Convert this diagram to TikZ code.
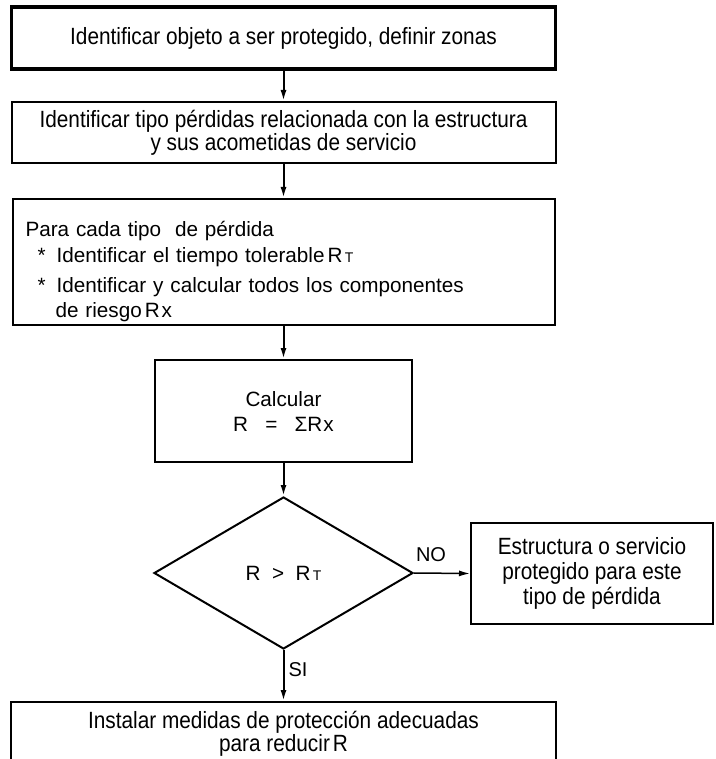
\documentclass[tikz,border=0pt]{standalone}
\usepackage{fontspec}
\setmainfont{Liberation Sans}
\newfontfamily\narrowfont[FakeStretch=0.885]{Liberation Sans}
\usetikzlibrary{shapes.geometric,arrows.meta}
\begin{document}
\begin{tikzpicture}[x=1pt,y=-1pt,
  box/.style={draw, line width=2pt, rectangle, inner sep=0pt, align=center},
  nar/.style={font=\narrowfont\fontsize{23.5}{23}\selectfont},
  reg/.style={font=\fontsize{20.7}{25}\selectfont},
  arr/.style={line width=2pt, -{Latex[length=11pt,width=6pt]}},
  lab/.style={font=\fontsize{20}{20}\selectfont, inner sep=0pt},
]
\clip (0,0) rectangle (715,759);
\fill[white] (0,0) rectangle (715,759);
\node[box, nar, line width=3.5pt, minimum width=544pt, minimum height=62pt] (b1) at (283.5,38)
  {Identificar objeto a ser protegido, definir zonas};
\node[box, nar, minimum width=544pt, minimum height=61pt] (b2) at (283.5,132.5)
  {Identificar tipo pérdidas relacionada con la estructura\\y sus acometidas de servicio};
\node[box, reg, minimum width=542pt, minimum height=126pt, text width=516pt, inner xsep=13pt, align=left] (b3) at (283.5,262)
  {\rule{0pt}{34pt}Para cada tipo\ \ de pérdida\\[1pt]
   \hspace*{12pt}*\hspace{11pt}Identificar el tiempo tolerable\hspace{3pt}R{\fontsize{14}{14}\selectfont\,T}\\[5pt]
   \hspace*{12pt}*\hspace{11pt}Identificar y calcular todos los componentes\\
   \hspace*{30pt}de riesgo\hspace{3pt}R\hspace{2pt}x};
\node[box, reg, minimum width=257pt, minimum height=102pt] (b4) at (283.5,411)
  {Calcular\\ R\ \ \ =\ \ \ ΣR\hspace{1pt}x};
\node[draw, line width=2pt, diamond, inner sep=0pt, minimum width=259pt, minimum height=152pt, reg] (d) at (283.5,573)
  {R\ \ >\ \ R{\fontsize{14}{14}\selectfont\,T}};
\node[box, nar, minimum width=242pt, minimum height=101pt, font=\narrowfont\fontsize{23.5}{25}\selectfont] (b5) at (592,573.5)
  {Estructura o servicio\\protegido para este\\tipo de pérdida};
\node[box, nar, minimum width=545pt, minimum height=64pt] (b6) at (283.5,734)
  {Instalar medidas de protección adecuadas\\para reducir\hspace{3pt}R};
\draw[arr] (b1.south) -- (b2.north);
\draw[arr] (b2.south) -- (b3.north);
\draw[arr] (b3.south) -- (b4.north);
\draw[arr] (b4.south) -- (d.north);
\draw[arr, line width=1.5pt] (d.east) -- (b5.west);
\draw[arr] (d.south) -- (b6.north);
\node[lab] (no) at (431,555) {NO};
\node[lab] (si) at (298,670) {SI};
\end{tikzpicture}
\end{document}
